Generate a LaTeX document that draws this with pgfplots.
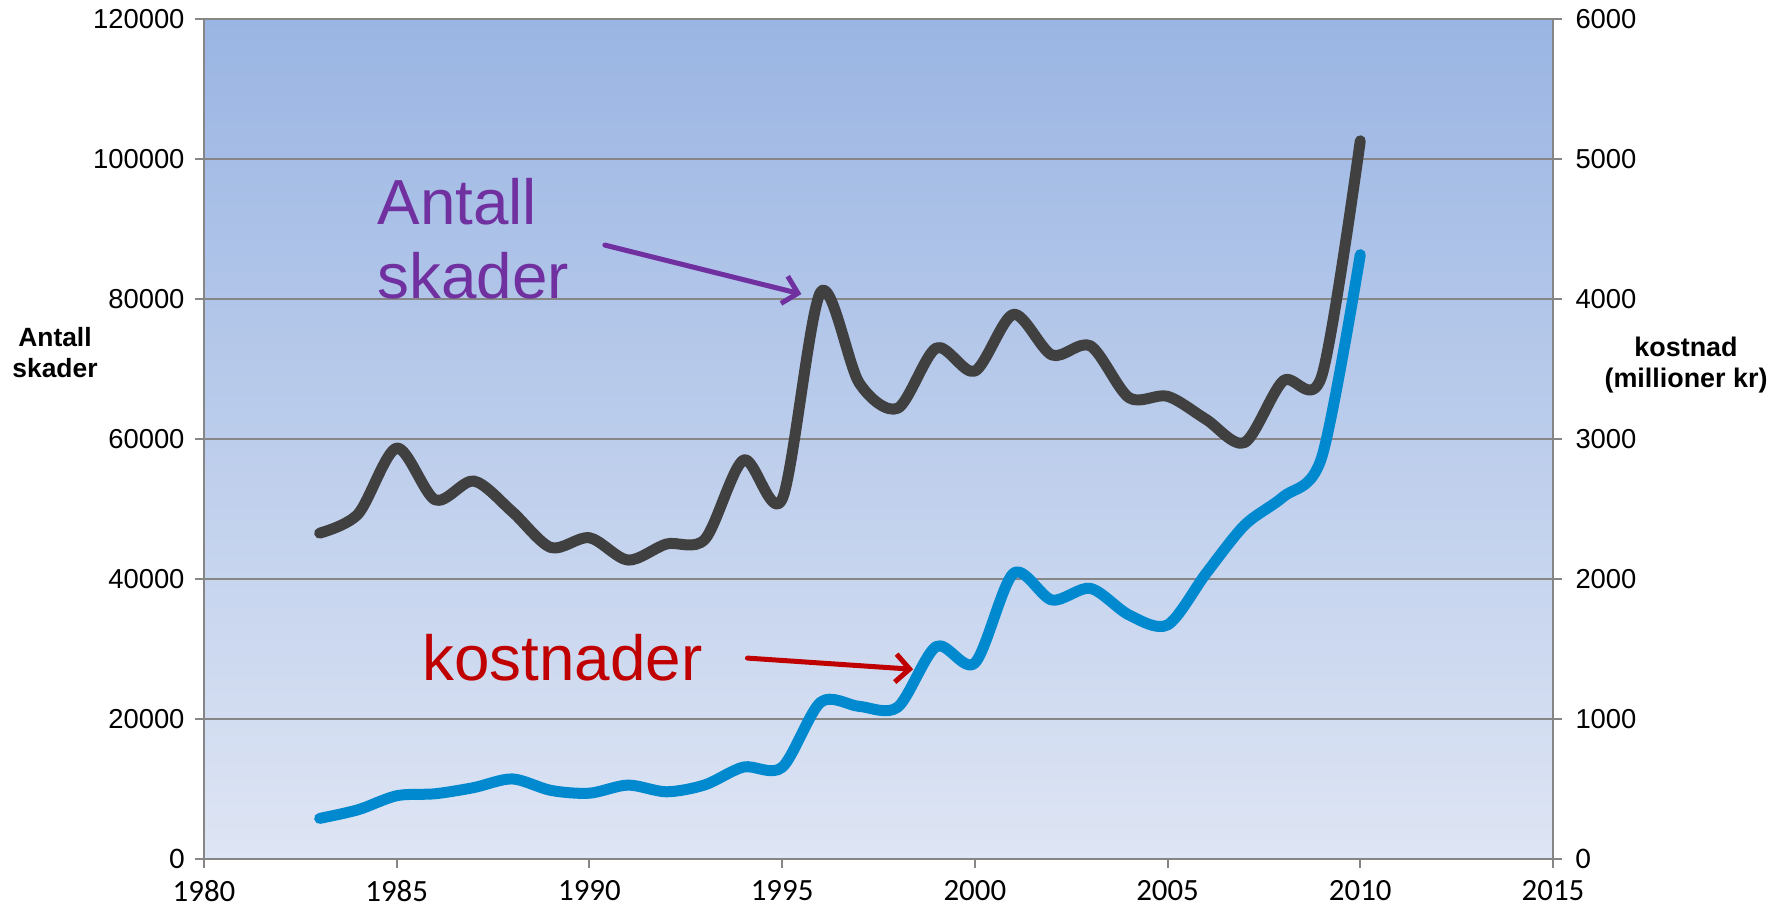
\documentclass[border=0pt]{standalone}
\usepackage{pgfplots}
\pgfplotsset{compat=1.18}
\usepackage{pgfplotstable}
\usetikzlibrary{arrows.meta}
\usepackage{fontspec}
\setmainfont{Liberation Sans}
\newfontfamily\carlito{Carlito}
\definecolor{bgtop}{RGB}{154,181,227}
\definecolor{bgbot}{RGB}{222,229,244}
\definecolor{gridc}{RGB}{134,134,134}
\definecolor{darkline}{RGB}{64,64,64}
\definecolor{blueline}{RGB}{0,137,207}
\definecolor{purp}{RGB}{112,48,160}
\definecolor{redc}{RGB}{192,0,0}

\pgfplotstableread{
year count
1983 46550
1984 49300
1985 58700
1986 51300
1987 54000
1988 49600
1989 44500
1990 45900
1991 42700
1992 45000
1993 45700
1994 57000
1995 51400
1996 81000
1997 68000
1998 64400
1999 73000
2000 69700
2001 77800
2002 72000
2003 73300
2004 65900
2005 66100
2006 62800
2007 59500
2008 68300
2009 69000
2010 102600
}\skader

\pgfplotstableread{
year cost
1983 290
1984 352
1985 452
1986 466
1987 510
1988 572
1989 490
1990 470
1991 528
1992 480
1993 530
1994 657
1995 655
1996 1120
1997 1090
1998 1085
1999 1518
2000 1400
2001 2040
2002 1850
2003 1933
2004 1743
2005 1672
2006 2040
2007 2385
2008 2587
2009 2870
2010 4317
}\kost

\begin{document}
\begin{tikzpicture}
\useasboundingbox (0,0) rectangle (1790bp,908bp);
\begin{axis}[
  at={(204bp,49bp)}, anchor=south west, scale only axis,
  width=1349bp, height=840bp,
  xmin=1980, xmax=2015, ymin=0, ymax=120000,
  xtick={1980,1985,...,2015},
  ytick={0,20000,40000,60000,80000,100000,120000},
  yticklabels={{\carlito\fontsize{30}{32}\selectfont 0},20000,40000,60000,80000,100000,120000},
  xticklabels={1980,1985,1990,1995,2000,2005,2010,2015},
  axis x line*=bottom, axis y line*=left,
  axis line style={gridc, line width=2.5bp, -},
  ymajorgrids, grid style={gridc, line width=2bp},
  tick align=outside, major tick length=9bp,
  tick style={gridc, line width=2bp},
  xticklabel style={font=\carlito\fontsize{31}{33}\selectfont, yshift=-9bp},
  yticklabel style={font=\fontsize{27.5}{30}\selectfont, xshift=-7bp},
  axis background/.style={top color=bgtop, bottom color=bgbot},
  clip=false,
]
\addplot[darkline, line width=11bp, smooth, tension=0.5, line cap=round, line join=round] table[x=year, y=count] {\skader};
\node[anchor=base west, text=purp, font=\fontsize{64}{74}\selectfont, inner sep=0pt] at (axis cs:1984.5,90600) {Antall};
\node[anchor=base west, text=purp, font=\fontsize{64}{74}\selectfont, inner sep=0pt] at (axis cs:1984.5,80100) {skader};
\draw[purp, line width=5bp, line cap=round, -{Straight Barb[length=14bp, width=28bp, line width=5bp]}] (axis cs:1990.4,87700) -- (axis cs:1995.5,80700);
\node[anchor=base west, text=redc, font=\fontsize{64}{74}\selectfont, inner sep=0pt] at (axis cs:1985.66,25470) {kostnader};
\draw[redc, line width=5bp, line cap=round, -{Straight Barb[length=14bp, width=28bp, line width=5bp]}] (axis cs:1994.1,28700) -- (axis cs:1998.4,27100);
\end{axis}
\begin{axis}[
  at={(204bp,49bp)}, anchor=south west, scale only axis,
  width=1349bp, height=840bp,
  xmin=1980, xmax=2015, ymin=0, ymax=6000,
  ytick={0,1000,...,6000},
  yticklabels={{\carlito\fontsize{30}{32}\selectfont 0},1000,2000,3000,4000,5000,6000},
  axis y line*=right, hide x axis,
  axis line style={gridc, line width=2.5bp, -},
  tick align=outside, major tick length=9bp,
  tick style={gridc, line width=2bp},
  yticklabel style={font=\fontsize{27.5}{30}\selectfont, xshift=10bp},
  clip=false,
]
\addplot[blueline, line width=11bp, smooth, tension=0.5, line cap=round, line join=round] table[x=year, y=cost] {\kost};
\end{axis}
\node[align=center, font=\bfseries\fontsize{26.5}{31}\selectfont] at (55bp,555bp) {Antall\\skader};
\node[align=center, font=\bfseries\fontsize{27}{32}\selectfont] at (1686bp,543bp) {kostnad\\(millioner kr)};
\end{tikzpicture}
\end{document}
